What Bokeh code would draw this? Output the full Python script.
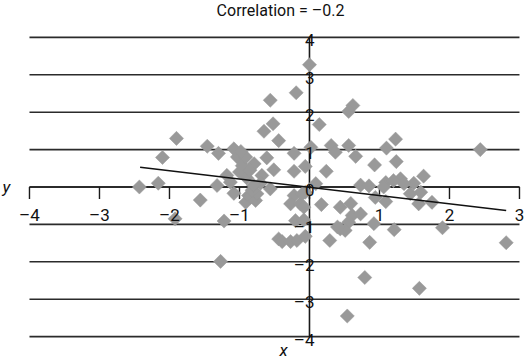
import numpy as np
from bokeh.plotting import figure
from bokeh.models import Range1d, ColumnDataSource
from bokeh.core.properties import value
from bokeh.embed import file_html
from bokeh.resources import INLINE

# ---- data ----
pts_x = [-2.43, -2.16, -2.10, -1.90, -1.92, -1.56, -1.46, -1.30, -1.32, -1.22,
         -1.27, -1.08, -1.03, -0.96, -1.18, -1.13, -1.08, -0.91, -0.87, -0.91,
         -0.79, -0.68, -0.84, -0.77, -0.75, -0.82, -0.56, -1.00, -0.90, -0.85,
         -0.70, -0.98, -0.80,
         0.00, -0.19, -0.56, 0.62, 0.56, -0.52, -0.65, 0.14, -0.44, -0.22,
         -0.61, -0.06, -0.22, -0.51, 0.24, 0.31, 0.37, 0.56, 0.66, 0.93, 0.02,
         1.23, 1.10, 1.24, 2.44, 1.63, 1.30, 1.49, 1.09, 1.20, 1.06,
         1.35, 0.73, 0.85, 1.59, 1.44, 1.56, 1.75, 1.09, 0.94,
         0.59, 0.44, 0.17, -0.22, -0.27, -0.13, -0.06, -0.08, 0.09, -0.10,
         -0.20, -0.08, 0.61, 0.73, 0.56, 0.92, 0.44, 0.51, 0.40, 1.21,
         1.90, 2.81, -0.44, -0.39, -0.27, -0.18, -0.06, 0.29, 0.86, 0.79,
         1.57, 0.54]
pts_y = [0.00, 0.10, 0.79, 1.30, -0.85, -0.35, 1.09, 0.90, 0.04, -0.91,
         -1.99, 1.02, 0.80, 0.57, 0.31, 0.13, -0.17, -0.41, -0.23, 0.80,
         0.62, 0.31, -0.27, -0.36, -0.18, -0.09, -0.05, 0.40, 0.25, 0.45,
         0.10, 0.95, 0.05,
         3.27, 2.52, 2.32, 2.18, 2.02, 1.69, 1.49, 1.67, 1.24, 0.90,
         0.78, 0.55, 0.42, 0.46, 0.42, 1.11, 0.93, 1.11, 0.82, 0.59, 1.06,
         1.28, 1.04, 0.68, 1.00, 0.29, 0.22, 0.10, 0.12, 0.17, 0.00,
         0.09, 0.05, 0.03, -0.14, -0.18, -0.45, -0.41, -0.39, -0.28,
         -0.44, -0.54, -0.47, -0.23, -0.45, -0.45, -0.14, -0.54, 0.09, -0.18,
         -0.90, -0.88, -0.76, -0.72, -0.94, -0.98, -1.12, -1.16, -1.07, -1.14,
         -1.09, -1.49, -1.39, -1.46, -1.46, -1.43, -1.32, -1.43, -1.48, -2.42,
         -2.71, -3.45]

fit_x = [-2.42, 2.81]
fit_y = [0.53, -0.63]

x_ticks = [-4, -3, -2, -1, 0, 1, 2, 3]
x_tick_labels = ["–4", "–3", "–2", "–1", "", "1", "2", "3"]
y_ticks = [-4, -3, -2, -1, 0, 1, 2, 3, 4]
y_tick_labels = ["–4", "–3", "–2", "–1", "0", "1", "2", "3", "4"]

title_text = "Correlation = –0.2"
x_label = "x"
y_label = "y"

FONT = "Roboto"

W, H = 525, 362
p = figure(width=W, height=H, output_backend="svg", toolbar_location=None,
           x_axis_type=None, y_axis_type=None,
           x_range=Range1d(-4.414, 3.086), y_range=Range1d(-4.693, 4.987),
           min_border=0, min_border_left=0, min_border_right=0,
           min_border_top=0, min_border_bottom=0)
p.outline_line_color = None
p.grid.visible = False
p.background_fill_color = "white"
p.border_fill_color = "white"

# horizontal grid lines spanning x ticks
n = len(y_ticks)
p.segment(x0=[x_ticks[0]] * n, x1=[x_ticks[-1]] * n, y0=y_ticks, y1=y_ticks,
          line_color="#2b2b2b", line_width=1.6)

# x axis line and tick marks
p.segment(x0=[x_ticks[0]], x1=[x_ticks[-1]], y0=[0], y1=[0],
          line_color="#1a1a1a", line_width=1.6)
p.segment(x0=x_ticks, x1=x_ticks, y0=[0] * len(x_ticks), y1=[-0.32] * len(x_ticks),
          line_color="#1a1a1a", line_width=1.4)
# y axis line
p.segment(x0=[0], x1=[0], y0=[y_ticks[0]], y1=[y_ticks[-1]],
          line_color="#1a1a1a", line_width=1.6)

# points (diamonds)
src = ColumnDataSource(dict(x=pts_x, y=pts_y))
p.scatter(x="x", y="y", source=src, marker="square", angle=np.pi / 4,
          size=10, fill_color="#999999", line_color="#999999", line_width=0.5)

# regression line
p.line(fit_x, fit_y, line_color="#111111", line_width=1.5)

# tick labels
p.text(x=x_ticks, y=[-0.76] * len(x_ticks), text=x_tick_labels,
       text_align="center", text_baseline="middle",
       text_font=value(FONT), text_font_size="17px", text_color="#111111")
p.text(x=[0] * len(y_ticks), y=y_ticks, text=y_tick_labels,
       x_offset=5, y_offset=3,
       text_align="right", text_baseline="middle",
       text_font=value(FONT), text_font_size="17px", text_color="#111111")

# title and axis names
p.text(x=[-0.414], y=[4.72], text=[title_text], text_align="center",
       text_baseline="middle", text_font=value(FONT), text_font_size="16px",
       text_color="#111111")
p.text(x=[-4.33], y=[0.0], text=[y_label], text_align="center",
       text_baseline="middle", text_font=value(FONT), text_font_size="17px",
       text_font_style="italic", text_color="#111111")
p.text(x=[-0.37], y=[-4.37], text=[x_label], text_align="center",
       text_baseline="middle", text_font=value(FONT), text_font_size="17px",
       text_font_style="italic", text_color="#111111")

open("out.html", "w").write(file_html(p, INLINE))
